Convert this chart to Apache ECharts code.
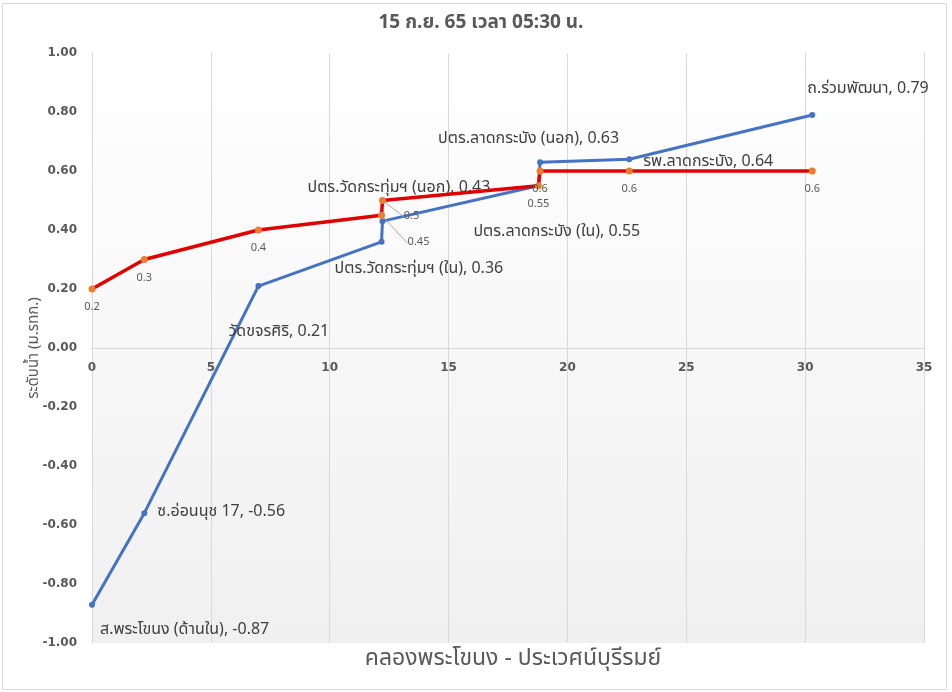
<!DOCTYPE html>
<html>
<head>
<meta charset="utf-8">
<script src="https://cdn.jsdelivr.net/npm/echarts@6/dist/echarts.min.js"></script>
<style>
    html, body { margin: 0; padding: 0; background: #fff; }
    #chart { width: 952px; height: 692px; }
</style>
</head>
<body>
<div id="chart"></div>
<script>
// ระยะทางตามคลอง (กม.)
const stationKm = [0, 2.2, 7.0, 12.18, 12.22, 18.78, 18.85, 22.6, 30.3];
const stationNames = ['ส.พระโขนง (ด้านใน)', 'ซ.อ่อนนุช 17', 'วัดขจรศิริ', 'ปตร.วัดกระทุ่มฯ (ใน)', 'ปตร.วัดกระทุ่มฯ (นอก)',
    'ปตร.ลาดกระบัง (ใน)', 'ปตร.ลาดกระบัง (นอก)', 'รพ.ลาดกระบัง', 'ถ.ร่วมพัฒนา'];
const waterLevel = [-0.87, -0.56, 0.21, 0.36, 0.43, 0.55, 0.63, 0.64, 0.79];
const controlLevel = [0.2, 0.3, 0.4, 0.45, 0.5, 0.55, 0.6, 0.6, 0.6];

const titleText = '15 ก.ย. 65 เวลา 05:30 น.';
const xTitle = 'คลองพระโขนง - ประเวศน์บุรีรมย์';
const yTitle = 'ระดับน้ำ (ม.รทก.)';

// label offsets (px) for the station labels
const nameOffsets = [[0, 26], [5, 0], [-38, 47], [-55, 28], [-83, -32], [-73, 47], [-110, -22], [6, 4], [-13, -25]];
// moved labels for the red line (with leader line)
const controlShift = { 3: [37, 9], 4: [29, -3] };

const font = '"Noto Sans Thai", Tahoma, "DejaVu Sans", "Noto Sans", sans-serif';
const gray = '#595959';

var chart = echarts.init(document.getElementById('chart'));

const blueData = stationKm.map((x, i) => ({
    name: stationNames[i],
    value: [x, waterLevel[i]],
    label: { offset: nameOffsets[i] }
}));
const redData = stationKm.map((x, i) => ({
    value: [x, controlLevel[i]],
    labelLine: { show: controlShift[i] !== undefined }
}));

chart.setOption({
    backgroundColor: '#fff',
    animation: false,
    textStyle: { fontFamily: font },
    title: [{
        text: titleText,
        left: 476, top: 10, textAlign: 'center',
        textStyle: { fontSize: 19, fontWeight: 'bold', color: gray, fontFamily: font }
    }, {
        text: xTitle,
        left: 508, top: 644, textAlign: 'center',
        textStyle: { fontSize: 23, fontWeight: 'normal', color: gray, fontFamily: font }
    }],
    graphic: [{
        type: 'rect', silent: true, z: -1,
        shape: { x: 2.5, y: 3.5, width: 944, height: 686 },
        style: { fill: null, stroke: '#d9d9d9', lineWidth: 1 }
    }],
    grid: {
        left: 92, right: 28, top: 53, bottom: 49,
        show: true, borderWidth: 0,
        backgroundColor: new echarts.graphic.LinearGradient(0, 0, 0, 1, [
            { offset: 0, color: '#ffffff' },
            { offset: 1, color: '#f0f0f0' }
        ])
    },
    xAxis: {
        type: 'value', min: 0, max: 35, interval: 5,
        position: 'bottom', offset: -295,
        axisLine: { onZero: false, lineStyle: { color: '#d9d9d9', width: 1 } },
        axisTick: { show: false },
        axisLabel: { color: gray, fontWeight: 'bold', fontSize: 12, margin: 14, fontFamily: '"DejaVu Sans", sans-serif' },
        splitLine: { show: true, lineStyle: { color: '#d9d9d9', width: 1 } }
    },
    yAxis: {
        type: 'value', min: -1, max: 1, interval: 0.2,
        name: yTitle, nameLocation: 'middle', nameGap: 50, nameRotate: 90,
        nameMoveOverlap: false,
        nameTextStyle: { color: gray, fontSize: 15, fontFamily: font },
        axisLine: { show: false },
        axisTick: { show: false },
        splitLine: { show: false },
        axisLabel: {
            color: gray, fontWeight: 'bold', fontSize: 12, margin: 15,
            fontFamily: '"DejaVu Sans", sans-serif',
            formatter: v => v.toFixed(2)
        }
    },
    series: [{
        type: 'line',
        data: blueData,
        symbol: 'circle', symbolSize: 6,
        itemStyle: { color: '#4472C4' },
        lineStyle: { color: '#4472C4', width: 3 },
        z: 2,
        label: {
            show: true, position: 'right', distance: 5,
            color: '#404040', fontSize: 16, fontFamily: font,
            formatter: p => p.name + ', ' + p.value[1].toFixed(2)
        }
    }, {
        type: 'line',
        data: redData,
        symbol: 'circle', symbolSize: 7,
        itemStyle: { color: '#ED7D31' },
        lineStyle: { color: '#E00000', width: 3.5 },
        z: 3,
        label: {
            show: true, position: 'bottom', distance: 10,
            color: gray, fontSize: 11, fontFamily: font,
            formatter: p => String(p.value[1])
        },
        labelLine: { show: false, lineStyle: { color: '#a6a6a6', width: 1 } },
        labelLayout: function (params) {
            const s = controlShift[params.dataIndex];
            return s ? { dx: s[0], dy: s[1] } : {};
        }
    }]
});
</script>
</body>
</html>
